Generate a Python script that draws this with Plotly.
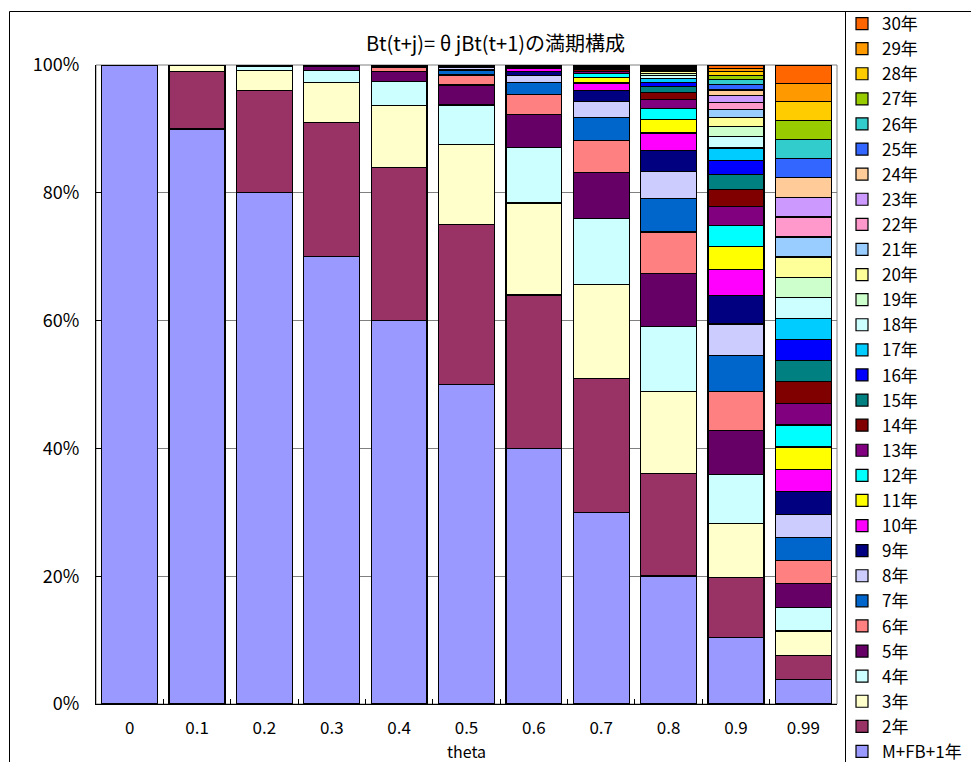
import plotly.graph_objects as go

# categories (theta)
theta_labels = ["0", "0.1", "0.2", "0.3", "0.4", "0.5", "0.6", "0.7", "0.8", "0.9", "0.99"]

# maturity series names (bottom to top)
series_names = ["M+FB+1年"] + [f"{j}年" for j in range(2, 31)]

# shares (%) of each maturity, read per theta bar (bottom = 1st series)
share_t000 = [100, 0, 0, 0, 0, 0, 0, 0, 0, 0, 0, 0, 0, 0, 0, 0, 0, 0, 0, 0, 0, 0, 0, 0, 0, 0, 0, 0, 0, 0]
share_t010 = [90, 9, 0.9, 0.09, 0.009, 0.0009, 0, 0, 0, 0, 0, 0, 0, 0, 0, 0, 0, 0, 0, 0, 0, 0, 0, 0, 0, 0, 0, 0, 0, 0]
share_t020 = [80, 16, 3.2, 0.64, 0.128, 0.0256, 0.0051, 0.001, 0, 0, 0, 0, 0, 0, 0, 0, 0, 0, 0, 0, 0, 0, 0, 0, 0, 0, 0, 0, 0, 0]
share_t030 = [70, 21, 6.3, 1.89, 0.567, 0.17, 0.051, 0.0153, 0.0046, 0.0014, 0.0004, 0, 0, 0, 0, 0, 0, 0, 0, 0, 0, 0, 0, 0, 0, 0, 0, 0, 0, 0]
share_t040 = [60, 24, 9.6, 3.84, 1.536, 0.614, 0.246, 0.098, 0.039, 0.016, 0.0063, 0.0025, 0.001, 0.0004, 0.0002, 0, 0, 0, 0, 0, 0, 0, 0, 0, 0, 0, 0, 0, 0, 0]
share_t050 = [50, 25, 12.5, 6.25, 3.125, 1.563, 0.781, 0.391, 0.195, 0.098, 0.049, 0.024, 0.012, 0.006, 0.003, 0.0015, 0.0008, 0.0004, 0.0002, 0.0001, 0, 0, 0, 0, 0, 0, 0, 0, 0, 0]
share_t060 = [40, 24, 14.4, 8.64, 5.184, 3.11, 1.866, 1.12, 0.672, 0.403, 0.242, 0.145, 0.087, 0.052, 0.031, 0.019, 0.011, 0.0068, 0.0041, 0.0024, 0.0015, 0.0009, 0.0005, 0.0003, 0.0002, 0.0001, 0, 0, 0, 0]
share_t070 = [30, 21, 14.7, 10.29, 7.203, 5.042, 3.529, 2.471, 1.729, 1.211, 0.847, 0.593, 0.415, 0.291, 0.203, 0.142, 0.1, 0.07, 0.049, 0.034, 0.024, 0.017, 0.012, 0.008, 0.006, 0.004, 0.003, 0.002, 0.001, 0.001]
share_t080 = [20.025, 16.02, 12.816, 10.253, 8.202, 6.562, 5.249, 4.199, 3.359, 2.688, 2.15, 1.72, 1.376, 1.101, 0.881, 0.705, 0.564, 0.451, 0.361, 0.289, 0.231, 0.185, 0.148, 0.118, 0.095, 0.076, 0.061, 0.048, 0.039, 0.031]
share_t090 = [10.443, 9.399, 8.459, 7.613, 6.852, 6.166, 5.55, 4.995, 4.495, 4.046, 3.641, 3.277, 2.949, 2.654, 2.389, 2.15, 1.935, 1.742, 1.567, 1.411, 1.27, 1.143, 1.028, 0.926, 0.833, 0.75, 0.675, 0.607, 0.547, 0.492]
share_t099 = [3.842, 3.803, 3.765, 3.728, 3.69, 3.653, 3.617, 3.581, 3.545, 3.509, 3.474, 3.44, 3.405, 3.371, 3.337, 3.304, 3.271, 3.238, 3.206, 3.174, 3.142, 3.111, 3.08, 3.049, 3.018, 2.988, 2.958, 2.929, 2.899, 2.87]

# Excel-style series colours
series_colors = [
    "#9999FF", "#993366", "#FFFFCC", "#CCFFFF", "#660066", "#FF8080", "#0066CC", "#CCCCFF",
    "#000080", "#FF00FF", "#FFFF00", "#00FFFF", "#800080", "#800000", "#008080", "#0000FF",
    "#00CCFF", "#CCFFFF", "#CCFFCC", "#FFFF99", "#99CCFF", "#FF99CC", "#CC99FF", "#FFCC99",
    "#3366FF", "#33CCCC", "#99CC00", "#FFCC00", "#FF9900", "#FF6600",
]

y_tick_vals = [0, 20, 40, 60, 80, 100]
y_tick_text = ["0%", "20%", "40%", "60%", "80%", "100%"]

title_text = "Bt(t+j)= θ jBt(t+1)の満期構成"
x_title_text = "theta"

table = [share_t000, share_t010, share_t020, share_t030, share_t040, share_t050,
         share_t060, share_t070, share_t080, share_t090, share_t099]

FONT = "Noto Sans CJK JP"

W, H = 971, 762
L, R, T, B = 96, 134, 65, 58
PW, PH = W - L - R, H - T - B


def px_x(p):
    return (p - L) / PW


def px_y(p):
    return (H - B - p) / PH


fig = go.Figure()
for k, name in enumerate(series_names):
    fig.add_trace(go.Bar(
        x=theta_labels,
        y=[row[k] for row in table],
        name=name,
        marker=dict(color=series_colors[k], line=dict(color="black", width=1.2)),
    ))

fig.update_layout(
    width=W, height=H,
    margin=dict(l=L, r=R, t=T, b=B, autoexpand=False),
    barmode="stack",
    barnorm="percent",
    bargap=0.17,
    paper_bgcolor="white",
    plot_bgcolor="white",
    font=dict(family=FONT, size=17, color="black"),
    showlegend=True,
    legend=dict(
        x=px_x(842), xanchor="left", xref="paper",
        y=px_y(6), yanchor="top", yref="paper",
        traceorder="reversed",
        font=dict(family=FONT, size=17, color="black"),
        bgcolor="rgba(0,0,0,0)",
        borderwidth=0,
        maxheight=2000,
        itemclick=False,
    ),
    xaxis=dict(
        type="category",
        showline=True, linecolor="black", linewidth=1,
        ticks="inside", ticklen=5, tickcolor="black", tickson="boundaries",
        tickfont=dict(family=FONT, size=17),
        ticklabelstandoff=9,
        showgrid=False,
    ),
    yaxis=dict(
        range=[0, 100],
        tickvals=y_tick_vals, ticktext=y_tick_text,
        showline=True, linecolor="black", linewidth=1,
        ticks="inside", ticklen=5, tickcolor="black",
        showgrid=True, gridcolor="#808080", gridwidth=1,
        tickfont=dict(family=FONT, size=18),
        ticklabelstandoff=12,
        zeroline=False,
    ),
    shapes=[
        # plot area border (gray)
        dict(type="rect", xref="paper", yref="paper", x0=0, x1=1, y0=0, y1=1,
             line=dict(color="#808080", width=1), layer="below"),
        # chart area border
        dict(type="rect", xref="paper", yref="paper",
             x0=px_x(9.5), x1=px_x(1000), y0=px_y(800), y1=px_y(11.5),
             line=dict(color="black", width=1)),
        # legend box left edge
        dict(type="line", xref="paper", yref="paper",
             x0=px_x(845.5), x1=px_x(845.5), y0=px_y(800), y1=px_y(11.5),
             line=dict(color="black", width=1)),
    ],
    annotations=[
        dict(text=title_text, xref="paper", yref="paper", x=px_x(495), y=px_y(43),
             xanchor="center", yanchor="middle", showarrow=False,
             font=dict(family=FONT, size=20, color="black")),
        dict(text=x_title_text, xref="paper", yref="paper", x=px_x(466), y=px_y(751),
             xanchor="center", yanchor="middle", showarrow=False,
             font=dict(family=FONT, size=16, color="black")),
    ],
)

fig.write_html("out.html")
